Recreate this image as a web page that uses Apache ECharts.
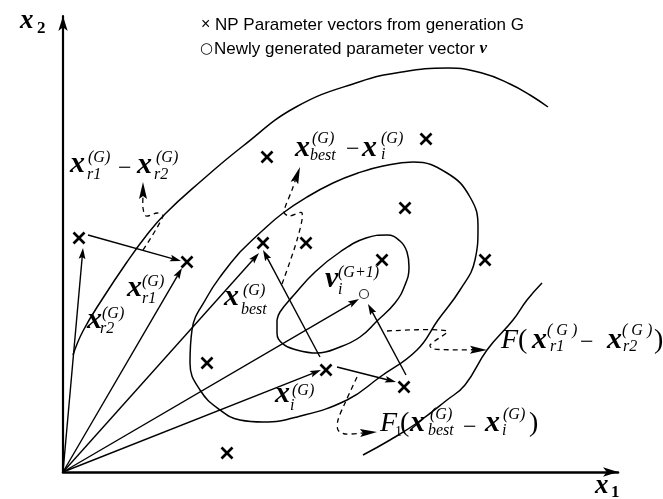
<!DOCTYPE html>
<html><head><meta charset="utf-8">
<script src="https://cdn.jsdelivr.net/npm/echarts@6/dist/echarts.min.js"></script>
<style>html,body{margin:0;padding:0;background:#fff}#c{width:663px;height:499px}</style>
</head><body><div id="c"></div>
<script>
// Data space: x1 / x2 measured from the axes origin (reference pixel units)
const populationG = [[16,234],[124,210],[204,315],[363,333],[342,264],[200,229],[243,229],[319,212],[422,212],[144,109],[263,102],[341,85],[164,19]];
const trialVector = [[301,178]];
const contourOuter = [[10,117],[20,141],[40,174],[64,210],[83,236],[102,258],[137,290],[180,326],[233,365],[296,390],[339,400],[385,404],[419,399],[447,388],[467,377],[485,365]];
const contourMiddle = [[177,220],[199,241],[220,259],[244,275],[270,289],[295,299],[320,306],[350,310],[384,299],[407,275],[415,245],[412,212],[397,182],[375,152],[354,122],[317,95],[284,72],[234,55],[200,50],[177,52],[157,62],[137,82],[127,109],[129,142],[144,175],[160,199],[177,220]];
const contourInner = [[214,152],[214,139],[220,128],[234,122],[254,119],[277,125],[297,135],[314,151],[332,169],[342,187],[346,205],[344,220],[337,231],[324,237],[303,234],[277,220],[252,200],[230,176],[217,160],[214,152]];
const contourRight = [[479,189],[464,172],[450,152],[424,122],[402,87],[384,72],[354,49],[327,32],[300,17]];
// solid vectors: [fromX, fromY, toX, toY]
const vectorArrows = [[0,0,20,224],[0,0,119,204],[0,0,196,219],[0,0,296,173],[0,0,258,102],[25,237,118,211],[274,105,333,90],[257,115,200,222],[343,97,305,168]];
// dashed annotation paths (last point = arrow tip)
const dashR1R2 = [[80,222],[100,256],[94,259],[83,256],[80,264],[80,290]];
const dashBestI = [[219,188],[234,232],[239,259],[226,256],[221,260],[229,282],[237,305]];
const dashF = [[324,141],[384,141],[367,127],[370,123],[424,122]];
const dashF1 = [[294,95],[282,69],[275,52],[275,42],[282,38],[314,40]];
const dashedPaths = [dashR1R2, dashBestI, dashF, dashF1];

const SERIF = '"Liberation Serif","Times New Roman",serif';
const SANS = '"Liberation Sans",Arial,Helvetica,sans-serif';
const M = 'italic bold 30px ' + SERIF;
const SS = 'italic 16px ' + SERIF;
const OP = '28px ' + SERIF;
const MINUS = '24px ' + SERIF;
function T(text, x, y, font) {
  return {type:'text', x:x, y:y, silent:true, z:100,
    style:{text:text, font:font, fill:'#000', align:'left', verticalAlign:'middle', textAlign:'left', textVerticalAlign:'middle'}};
}
function mx(x, y) { return T('x', x, y - 3, M); }
const texts = [
  // legend
  T('\u00d7', 201, 25, '16px ' + SANS),
  T('NP Parameter vectors from generation G', 215, 25, '17px ' + SANS),
  T('\u25cb', 200, 49, '15px "DejaVu Sans",' + SANS),
  {type:'text', x:214, y:49, silent:true, z:100, style:{text:'Newly generated parameter vector {v|v}', font:'17px ' + SANS, fill:'#000', align:'left', verticalAlign:'middle', textVerticalAlign:'middle', rich:{v:{font:'italic bold 17px ' + SERIF, fill:'#000'}}}},
  // axis names
  T('x', 20, 21, 'italic bold 27px ' + SERIF), T('2', 37, 29, 'bold 17px ' + SERIF),
  T('x', 595, 486, 'italic bold 27px ' + SERIF), T('1', 611, 493, 'bold 17px ' + SERIF),
  // x_r1 - x_r2
  mx(70,167), T('(G)',88,158,SS), T('r1',87,175,SS), T('\u2212',118,169,MINUS), mx(137,168), T('(G)',156,158,SS), T('r2',154,175,SS),
  // x_best - x_i
  mx(295,151), T('(G)',312,139,SS), T('best',310,156,SS), T('\u2212',346,150,MINUS), mx(362,151), T('(G)',381,139,SS), T('i',381,155,SS),
  // x_r1
  mx(127,291), T('(G)',142,282,SS), T('r1',142,299,SS),
  // x_r2
  mx(87,323), T('(G)',102,314,SS), T('r2',100,329,SS),
  // x_best
  mx(224,300), T('(G)',243,291,SS), T('best',241,310,SS),
  // v_i^(G+1)
  T('v',325,279,M), T('(G+1)',338,273,SS), T('i',338,290,SS),
  // x_i
  mx(275,397), T('(G)',292,391,SS), T('i',290,406,SS),
  // F(x_r1 - x_r2)
  T('F',501,341,'italic 28px ' + SERIF), T('(',518,341,OP), mx(532,343), T('( G )',547,331,SS), T('r1',550,347,SS), T('\u2212',580,343,MINUS), mx(607,343), T('( G )',622,331,SS), T('r2',623,347,SS), T(')',654,341,OP),
  // F1(x_best - x_i)
  T('F',380,424,'italic 28px ' + SERIF), T('1',395,432,'14px ' + SERIF), T('(',400,424,OP), mx(410,426), T('(G)',430,415,SS), T('best',428,431,SS), T('\u2212',463,428,MINUS), mx(485,426), T('(G)',503,415,SS), T('i',502,431,SS), T(')',529,424,OP)
];

function head(tip, prev, L, W, notch) {
  const dx = tip[0]-prev[0], dy = tip[1]-prev[1];
  const d = Math.hypot(dx, dy) || 1, ux = dx/d, uy = dy/d;
  const bx = tip[0]-ux*L, by = tip[1]-uy*L;
  const neck = [tip[0]-ux*(L-notch), tip[1]-uy*(L-notch)];
  return {points:[tip,[bx-uy*W, by+ux*W], neck, [bx+uy*W, by-ux*W]], neck:neck};
}
const lineBase = {type:'line', symbol:'none', smooth:0.45, silent:true, animation:false, lineStyle:{color:'#000', width:1.5}, z:2};

const chart = echarts.init(document.getElementById('c'));
chart.setOption({
  animation:false,
  backgroundColor:'#fff',
  grid:{left:63, right:45, top:16, bottom:27},
  xAxis:{type:'value', min:0, max:555, splitLine:{show:false}, axisTick:{show:false}, axisLabel:{show:false},
    axisLine:{show:true, symbol:['none','arrow'], symbolSize:[7,15], lineStyle:{color:'#000', width:2.6}}},
  yAxis:{type:'value', min:0, max:456, splitLine:{show:false}, axisTick:{show:false}, axisLabel:{show:false},
    axisLine:{show:true, symbol:['none','arrow'], symbolSize:[7,15], lineStyle:{color:'#000', width:2.2}}},
  graphic: texts,
  series:[
    Object.assign({}, lineBase, {name:'outer', data:contourOuter}),
    Object.assign({}, lineBase, {name:'middle', data:contourMiddle}),
    Object.assign({}, lineBase, {name:'inner', data:contourInner}),
    Object.assign({}, lineBase, {name:'right', data:contourRight}),
    {type:'custom', name:'vectors', silent:true, z:3, data:vectorArrows, encode:{x:[0,2], y:[1,3]},
      renderItem:function(params, api){
        const a = api.coord([api.value(0), api.value(1)]);
        const b = api.coord([api.value(2), api.value(3)]);
        const h = head(b, a, 11, 3.4, 2);
        return {type:'group', children:[
          {type:'line', shape:{x1:a[0], y1:a[1], x2:h.neck[0], y2:h.neck[1]}, style:{stroke:'#000', lineWidth:1.4}},
          {type:'polygon', shape:{points:h.points}, style:{fill:'#000'}}
        ]};
      }},
    {type:'custom', name:'dashed', silent:true, z:3,
      data:dashedPaths.map(function(p, k){ return [p[p.length-1][0], p[p.length-1][1], k]; }), encode:{x:0, y:1},
      renderItem:function(params, api){
        const pts = dashedPaths[api.value(2)].map(function(p){ return api.coord(p); });
        const tip = pts[pts.length-1], prev = pts[pts.length-2];
        const h = head(tip, prev, 17, 4, 3);
        pts[pts.length-1] = h.neck;
        return {type:'group', children:[
          {type:'polyline', shape:{points:pts, smooth:0.3}, style:{stroke:'#000', fill:'none', lineWidth:1.3, lineDash:[5,4]}},
          {type:'polygon', shape:{points:h.points}, style:{fill:'#000'}}
        ]};
      }},
    {type:'custom', name:'population', silent:true, z:4, data:populationG, encode:{x:0, y:1},
      renderItem:function(params, api){
        const c = api.coord([api.value(0), api.value(1)]), s = 5.5;
        return {type:'group', children:[
          {type:'line', shape:{x1:c[0]-s, y1:c[1]-s, x2:c[0]+s, y2:c[1]+s}, style:{stroke:'#000', lineWidth:2.6}},
          {type:'line', shape:{x1:c[0]-s, y1:c[1]+s, x2:c[0]+s, y2:c[1]-s}, style:{stroke:'#000', lineWidth:2.6}}
        ]};
      }},
    {type:'scatter', name:'trial', silent:true, z:5, data:trialVector, symbol:'circle', symbolSize:9,
      itemStyle:{color:'#fff', borderColor:'#000', borderWidth:1.2}}
  ]
});
</script></body></html>
